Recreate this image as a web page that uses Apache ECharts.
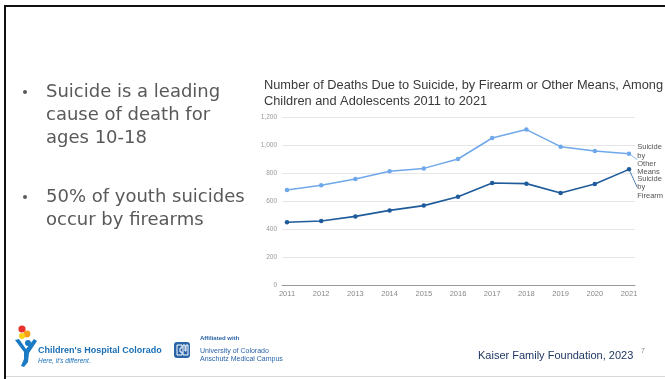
<!DOCTYPE html>
<html><head><meta charset="utf-8">
<script src="https://cdn.jsdelivr.net/npm/echarts@6/dist/echarts.min.js"></script>
<style>html,body{margin:0;padding:0;background:#fff}#c{width:665px;height:379px}</style>
</head><body><div id="c"></div>
<script>
const years = [2011,2012,2013,2014,2015,2016,2017,2018,2019,2020,2021];
const otherMeans = [679,712,757,812,833,900,1050,1110,988,957,938];
const firearm = [448,457,490,533,567,631,729,724,657,721,826];
const yTicks = [0,200,400,600,800,1000,1200];
const titleText = 'Number of Deaths Due to Suicide, by Firearm or Other Means, Among\nChildren and Adolescents 2011 to 2021';
const bullets1 = ['Suicide is a leading','cause of death for','ages 10-18'];
const bullets2 = ['50% of youth suicides','occur by firearms'];

function mk(vals, lbl){
  return vals.map((v,i)=>{
    const d = {value:[years[i], v]};
    if(i===vals.length-1){
      d.label = {show:true, position:'right', formatter: lbl, color:'#555', fontSize:7.5,
        fontFamily:'Liberation Sans, Arial', lineHeight:8.2, align:'left', distance:6};
    }
    return d;
  });
}
const chart = echarts.init(document.getElementById('c'), null, {renderer:'canvas'});
const slideFont = 'DejaVu Sans';
const gfx = [
  {type:'rect', shape:{x:4,y:5,width:700,height:2}, style:{fill:'#111'}},
  {type:'rect', shape:{x:4,y:5,width:2,height:400}, style:{fill:'#111'}},
  {type:'rect', shape:{x:6,y:376,width:700,height:1}, style:{fill:'#d8d8d8'}},
];
bullets1.forEach((t,i)=>gfx.push({type:'text', x:46, y:92+i*23.3, style:{text:t, font:'18px "'+slideFont+'"', fill:'#595959', verticalAlign:'middle'}}));
bullets2.forEach((t,i)=>gfx.push({type:'text', x:46, y:197+i*23.3, style:{text:t, font:'18px "'+slideFont+'"', fill:'#595959', verticalAlign:'middle'}}));
[92,197].forEach(y=>gfx.push({type:'circle', shape:{cx:25,cy:y,r:2}, style:{fill:'#595959'}}));
// footer
gfx.push({type:'text', x:478, y:356, style:{text:'Kaiser Family Foundation, 2023', font:'11px "Liberation Sans"', fill:'#1f3864', verticalAlign:'middle'}});
gfx.push({type:'text', x:641, y:351, style:{text:'7', font:'7px "Liberation Sans"', fill:'#888', verticalAlign:'middle'}});
// children's hospital logo
gfx.push({type:'circle', shape:{cx:22,cy:329,r:3.6}, style:{fill:'#e8322b'}});
gfx.push({type:'circle', shape:{cx:27,cy:334,r:3.4}, style:{fill:'#f6a01a'}});
gfx.push({type:'circle', shape:{cx:22,cy:336,r:3}, style:{fill:'#fcd116'}});
gfx.push({type:'circle', shape:{cx:28,cy:343,r:3}, style:{fill:'#1a7bc4'}});
gfx.push({type:'polygon', shape:{points:[[15,340],[19,339],[26,349],[34,339],[37,341],[29,353],[28,362],[24,367],[21,366],[24,359],[24,352]]}, style:{fill:'#1a7bc4'}});
gfx.push({type:'text', x:38, y:351, style:{text:"Children's Hospital Colorado", font:'bold 9px "Liberation Sans"', fill:'#1a6fb5', verticalAlign:'middle'}});
gfx.push({type:'text', x:38, y:361, style:{text:"Here, it's different.", font:'italic 6.5px "Liberation Sans"', fill:'#1a6fb5', verticalAlign:'middle'}});
// CU logo
gfx.push({type:'rect', shape:{x:174,y:342,width:16,height:16,r:3}, style:{fill:'#2a64a8'}});
gfx.push({type:'polyline', shape:{points:[[182,345],[177,345],[177,355],[182,355],[182,352],[180,352],[180,348],[182,348],[182,345]]}, style:{fill:'none', stroke:'#fff', lineWidth:1}});
gfx.push({type:'polyline', shape:{points:[[183,345],[183,355],[188,355],[188,345],[186,345],[186,351],[185,351],[185,345],[183,345]]}, style:{fill:'none', stroke:'#fff', lineWidth:1}});
gfx.push({type:'text', x:200, y:338.5, style:{text:'Affiliated with', font:'bold 6px "Liberation Sans"', fill:'#2a64a8', verticalAlign:'middle'}});
gfx.push({type:'text', x:200, y:351.5, style:{text:'University of Colorado', font:'7px "Liberation Sans"', fill:'#2a64a8', verticalAlign:'middle'}});
gfx.push({type:'text', x:200, y:359, style:{text:'Anschutz Medical Campus', font:'7px "Liberation Sans"', fill:'#2a64a8', verticalAlign:'middle'}});

chart.setOption({
  animation:false,
  title:{text:titleText, left:259, top:72, textStyle:{fontFamily:'Liberation Sans', fontSize:12.8, fontWeight:'normal', color:'#3a3a3a', lineHeight:16}},
  grid:{left:282, right:30, top:117, bottom:94},
  xAxis:{type:'value', min:2010.854, max:2021.175, splitLine:{show:false},
    axisLine:{lineStyle:{color:'#999', width:1}}, axisTick:{show:false},
    axisLabel:{customValues:years, color:'#888', fontSize:7.5, fontFamily:'Liberation Sans', margin:5, formatter:v=>String(v)}},
  yAxis:{type:'value', min:0, max:1200, interval:200, axisLine:{show:false}, axisTick:{show:false},
    splitLine:{lineStyle:{color:'#e6e6e6', width:1}},
    axisLabel:{color:'#999', fontSize:6.5, fontFamily:'Liberation Sans', margin:5, formatter:v=>v.toLocaleString('en-US')}},
  series:[
    {type:'line', name:'Suicide by Other Means', data:mk(otherMeans,'Suicide\nby\nOther\nMeans'),
      symbol:'circle', symbolSize:4.5, itemStyle:{color:'#6fa8ea'}, lineStyle:{width:1.5, color:'#6fa8ea'},
      labelLayout:{dy:6}, labelLine:{show:true, lineStyle:{color:'#6fa8ea', width:0.8}}},
    {type:'line', name:'Suicide by Firearm', data:mk(firearm,'Suicide\nby\nFirearm'),
      symbol:'circle', symbolSize:4.5, itemStyle:{color:'#1f5b9b'}, lineStyle:{width:1.6, color:'#1f5b9b'},
      labelLayout:{dy:18}, labelLine:{show:true, lineStyle:{color:'#1f5b9b', width:0.8}}}
  ],
  graphic:gfx
});
</script></body></html>
